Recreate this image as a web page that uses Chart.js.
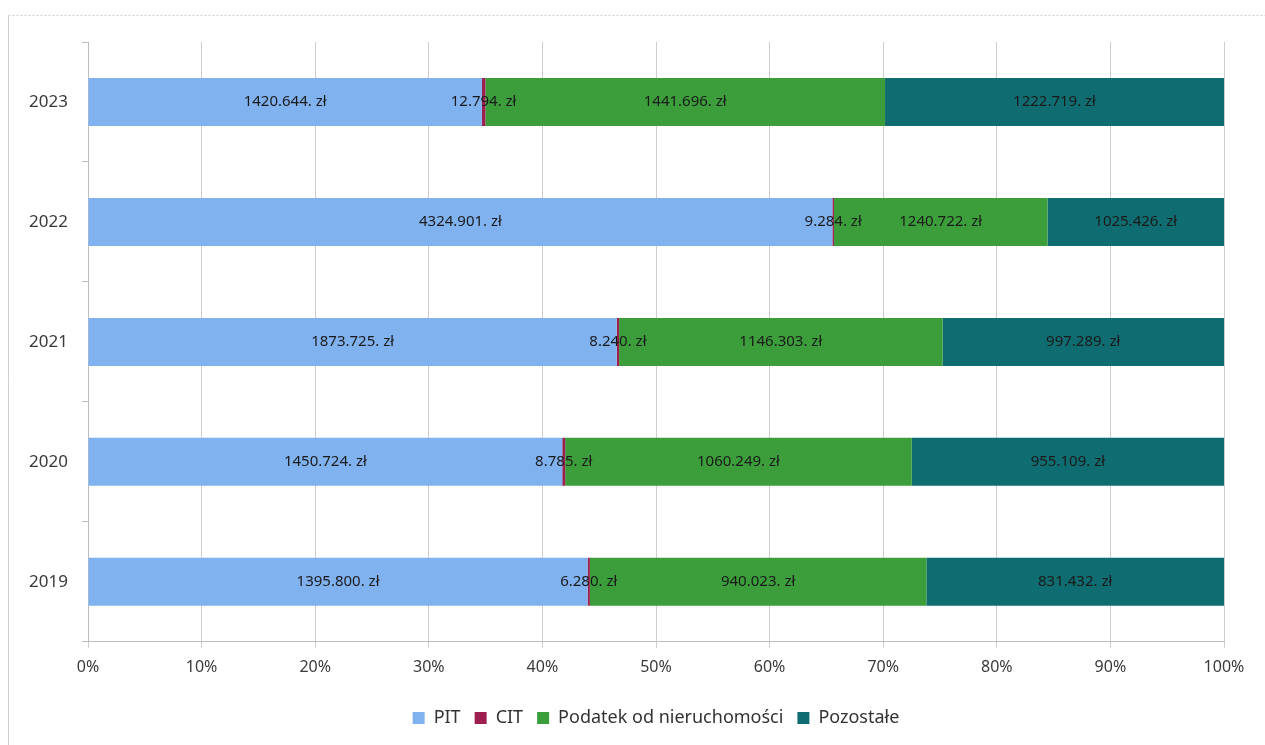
<!DOCTYPE html>
<html>
<head>
<meta charset="utf-8">
<script src="https://cdn.jsdelivr.net/npm/chart.js@4/dist/chart.umd.min.js"></script>
<style>
  html, body { margin: 0; padding: 0; background: #fff; }
  #wrap { position: relative; width: 1265px; height: 745px; }
</style>
</head>
<body>
<div id="wrap"><canvas id="taxChart"></canvas></div>
<script>
const years = ["2023", "2022", "2021", "2020", "2019"];
const pit = [1420.644, 4324.901, 1873.725, 1450.724, 1395.8];
const cit = [12.794, 9.284, 8.24, 8.785, 6.28];
const nieruchomosci = [1441.696, 1240.722, 1146.303, 1060.249, 940.023];
const pozostale = [1222.719, 1025.426, 997.289, 955.109, 831.432];
const seriesNames = ["PIT", "CIT", "Podatek od nieruchomości", "Pozostałe"];
const seriesColors = ["#80b2f0", "#9c1f4f", "#3b9e3b", "#0f6d72"];

const raw = [pit, cit, nieruchomosci, pozostale];
const totals = years.map((_, i) => raw.reduce((s, arr) => s + arr[i], 0));

const fontFamily = "'Noto Sans', sans-serif";

// frame around the chart, like the scanned excel box
const framePlugin = {
  id: "frame",
  beforeDraw(chart) {
    const c = chart.ctx;
    c.save();
    c.strokeStyle = "#cfcfcf";
    c.lineWidth = 1;
    c.beginPath();
    c.moveTo(8.5, 760);
    c.lineTo(8.5, 15.5);
    c.stroke();
    c.setLineDash([2, 2]);
    c.beginPath();
    c.moveTo(8.5, 15.5);
    c.lineTo(1265, 15.5);
    c.stroke();
    c.restore();
  },
};

// value labels centred on every segment
const valueLabels = {
  id: "valueLabels",
  afterDatasetsDraw(chart) {
    const c = chart.ctx;
    c.save();
    c.font = "15px " + fontFamily;
    c.fillStyle = "#1a1a1a";
    c.textAlign = "center";
    c.textBaseline = "middle";
    chart.data.datasets.forEach((ds, di) => {
      const meta = chart.getDatasetMeta(di);
      meta.data.forEach((bar, i) => {
        const p = bar.getProps(["x", "y", "base"], true);
        const cx = (p.x + p.base) / 2;
        c.fillText(raw[di][i].toFixed(3) + ". zł", cx, p.y);
      });
    });
    c.restore();
  },
};

new Chart(document.getElementById("taxChart").getContext("2d"), {
  type: "bar",
  data: {
    labels: years,
    datasets: raw.map((arr, di) => ({
      label: seriesNames[di],
      data: arr.map((v, i) => (v / totals[i]) * 100),
      backgroundColor: seriesColors[di],
      borderWidth: 0,
      categoryPercentage: 1,
      barPercentage: 0.4,
    })),
  },
  options: {
    indexAxis: "y",
    responsive: true,
    maintainAspectRatio: false,
    animation: false,
    layout: {
      padding: { left: 8, right: 41, top: 42, bottom: 8 },
    },
    plugins: {
      legend: {
        position: "bottom",
        fullSize: false,
        labels: {
          boxWidth: 12,
          boxHeight: 12,
          padding: 14,
          color: "#333",
          font: { size: 18, family: fontFamily },
        },
      },
      tooltip: { enabled: false },
    },
    scales: {
      x: {
        stacked: true,
        min: 0,
        max: 100,
        afterFit: (scale) => {
          scale.height += 8;
        },
        ticks: {
          stepSize: 10,
          color: "#3a3a3a",
          padding: 10,
          font: { size: 16, family: fontFamily },
          callback: (v) => v + "%",
        },
        grid: { color: "#cdcdcd", tickLength: 6 },
        border: { color: "#bdbdbd" },
      },
      y: {
        stacked: true,
        afterFit: (scale) => {
          scale.width = 80;
        },
        ticks: {
          color: "#3a3a3a",
          padding: 14,
          font: { size: 17, family: fontFamily },
        },
        grid: {
          offset: true,
          drawOnChartArea: false,
          tickLength: 6,
          color: "#bdbdbd",
        },
        border: { color: "#bdbdbd" },
      },
    },
  },
  plugins: [framePlugin, valueLabels],
});
</script>
</body>
</html>
